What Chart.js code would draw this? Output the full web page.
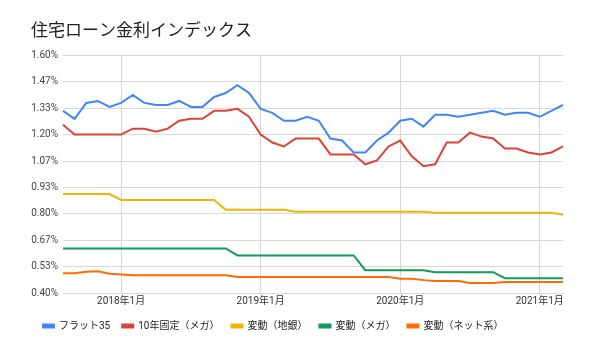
<!DOCTYPE html>
<html>
<head>
<meta charset="utf-8">
<script src="https://cdn.jsdelivr.net/npm/chart.js"></script>
<style>
  html, body { margin: 0; padding: 0; background: #fff; }
</style>
</head>
<body>
<canvas id="rate-index" width="600" height="346"></canvas>
<script>
/* 住宅ローン金利インデックス */
const months = [
  '2017年8月', '2017年9月', '2017年10月', '2017年11月', '2017年12月',
  '2018年1月', '2018年2月', '2018年3月', '2018年4月', '2018年5月', '2018年6月',
  '2018年7月', '2018年8月', '2018年9月', '2018年10月', '2018年11月', '2018年12月',
  '2019年1月', '2019年2月', '2019年3月', '2019年4月', '2019年5月', '2019年6月',
  '2019年7月', '2019年8月', '2019年9月', '2019年10月', '2019年11月', '2019年12月',
  '2020年1月', '2020年2月', '2020年3月', '2020年4月', '2020年5月', '2020年6月',
  '2020年7月', '2020年8月', '2020年9月', '2020年10月', '2020年11月', '2020年12月',
  '2021年1月', '2021年2月', '2021年3月'
];

const flat35 = [
  1.32, 1.28, 1.36, 1.37, 1.34,
  1.36, 1.40, 1.36, 1.35, 1.35, 1.37, 1.34, 1.34, 1.39, 1.41, 1.45, 1.41,
  1.33, 1.31, 1.27, 1.27, 1.29, 1.27, 1.18, 1.17, 1.11, 1.11, 1.17, 1.21,
  1.27, 1.28, 1.24, 1.30, 1.30, 1.29, 1.30, 1.31, 1.32, 1.30, 1.31, 1.31,
  1.29, 1.32, 1.35
];

const fixed10Mega = [
  1.25, 1.20, 1.20, 1.20, 1.20,
  1.20, 1.23, 1.23, 1.215, 1.23, 1.27, 1.28, 1.28, 1.32, 1.32, 1.33, 1.29,
  1.20, 1.16, 1.14, 1.18, 1.18, 1.18, 1.10, 1.10, 1.10, 1.05, 1.07, 1.14,
  1.17, 1.09, 1.04, 1.05, 1.16, 1.16, 1.21, 1.19, 1.18, 1.13, 1.13, 1.11,
  1.10, 1.11, 1.14
];

const variableRegional = [
  0.90, 0.90, 0.90, 0.90, 0.90,
  0.87, 0.87, 0.87, 0.87, 0.87, 0.87, 0.87, 0.87, 0.87, 0.82, 0.82, 0.82,
  0.82, 0.82, 0.82, 0.81, 0.81, 0.81, 0.81, 0.81, 0.81, 0.81, 0.81, 0.81,
  0.81, 0.81, 0.81, 0.805, 0.805, 0.805, 0.805, 0.805, 0.805, 0.805, 0.805, 0.805,
  0.805, 0.805, 0.795
];

const variableMega = [
  0.625, 0.625, 0.625, 0.625, 0.625,
  0.625, 0.625, 0.625, 0.625, 0.625, 0.625, 0.625, 0.625, 0.625, 0.625, 0.59, 0.59,
  0.59, 0.59, 0.59, 0.59, 0.59, 0.59, 0.59, 0.59, 0.59, 0.515, 0.515, 0.515,
  0.515, 0.515, 0.515, 0.505, 0.505, 0.505, 0.505, 0.505, 0.505, 0.475, 0.475, 0.475,
  0.475, 0.475, 0.475
];

const variableNet = [
  0.50, 0.50, 0.507, 0.51, 0.497,
  0.494, 0.49, 0.49, 0.49, 0.49, 0.49, 0.49, 0.49, 0.49, 0.49, 0.481, 0.481,
  0.481, 0.481, 0.481, 0.481, 0.481, 0.481, 0.481, 0.481, 0.481, 0.481, 0.481, 0.481,
  0.472, 0.472, 0.465, 0.46, 0.46, 0.46, 0.45, 0.45, 0.45, 0.455, 0.455, 0.455,
  0.455, 0.455, 0.455
];

const yTickValues = [0.4, 0.4 + 0.4 / 3, 0.4 + 0.8 / 3, 0.8, 0.8 + 0.4 / 3, 0.8 + 0.8 / 3, 1.2, 1.2 + 0.4 / 3, 1.2 + 0.8 / 3, 1.6];
const yTickLabels = ['0.40%', '0.53%', '0.67%', '0.80%', '0.93%', '1.07%', '1.20%', '1.33%', '1.47%', '1.60%'];

const fontFamily = "Roboto, 'Noto Sans CJK JP', sans-serif";

function series(label, data, color) {
    return {
        label: label,
        data: data,
        borderColor: color,
        backgroundColor: color,
        borderWidth: 2,
        pointRadius: 0,
        tension: 0,
        fill: false
    };
}

const ctx_rates = document.getElementById('rate-index').getContext('2d');
const rateChart = new Chart(ctx_rates, {
    type: 'line',
    data: {
        labels: months,
        datasets: [
            series('フラット35', flat35, '#4285F4'),
            series('10年固定（メガ）', fixed10Mega, '#DB4437'),
            series('変動（地銀）', variableRegional, '#F4B400'),
            series('変動（メガ）', variableMega, '#0F9D58'),
            series('変動（ネット系）', variableNet, '#FF6D00')
        ]
    },
    options: {
        responsive: false,
        animation: false,
        layout: {
            padding: { left: 31, right: 37, top: 0, bottom: 5 }
        },
        plugins: {
            title: {
                display: true,
                text: '住宅ローン金利インデックス',
                align: 'start',
                color: '#212121',
                font: { family: fontFamily, size: 17, weight: 'normal' },
                padding: { top: 22, bottom: 13 }
            },
            legend: {
                position: 'bottom',
                align: 'start',
                labels: {
                    boxWidth: 11,
                    boxHeight: 3,
                    padding: 12,
                    color: '#222',
                    font: { family: fontFamily, size: 10 }
                }
            },
            tooltip: { enabled: false }
        },
        scales: {
            x: {
                border: { display: false },
                grid: {
                    drawTicks: false,
                    color: function(c) {
                        const lab = c.tick ? months[c.tick.value] : '';
                        return lab && lab.endsWith('年1月') ? '#d6d6d6' : 'rgba(0,0,0,0)';
                    }
                },
                ticks: {
                    autoSkip: false,
                    maxRotation: 0,
                    padding: 2,
                    color: '#333',
                    font: { family: fontFamily, size: 10 },
                    callback: function(val) {
                        const lab = months[val];
                        return lab.endsWith('年1月') ? lab : '';
                    }
                },
                afterFit: function(scale) { scale.height = 16; }
            },
            y: {
                min: 0.4,
                max: 1.6,
                border: { display: false },
                grid: { drawTicks: false, color: '#d9d9d9' },
                afterBuildTicks: function(scale) {
                    scale.ticks = yTickValues.map(v => ({ value: v }));
                },
                ticks: {
                    padding: 5,
                    color: '#444',
                    font: { family: fontFamily, size: 10 },
                    callback: function(val, idx) { return yTickLabels[idx]; }
                },
                afterFit: function(scale) { scale.width = 32; }
            }
        }
    }
});
</script>
</body>
</html>
